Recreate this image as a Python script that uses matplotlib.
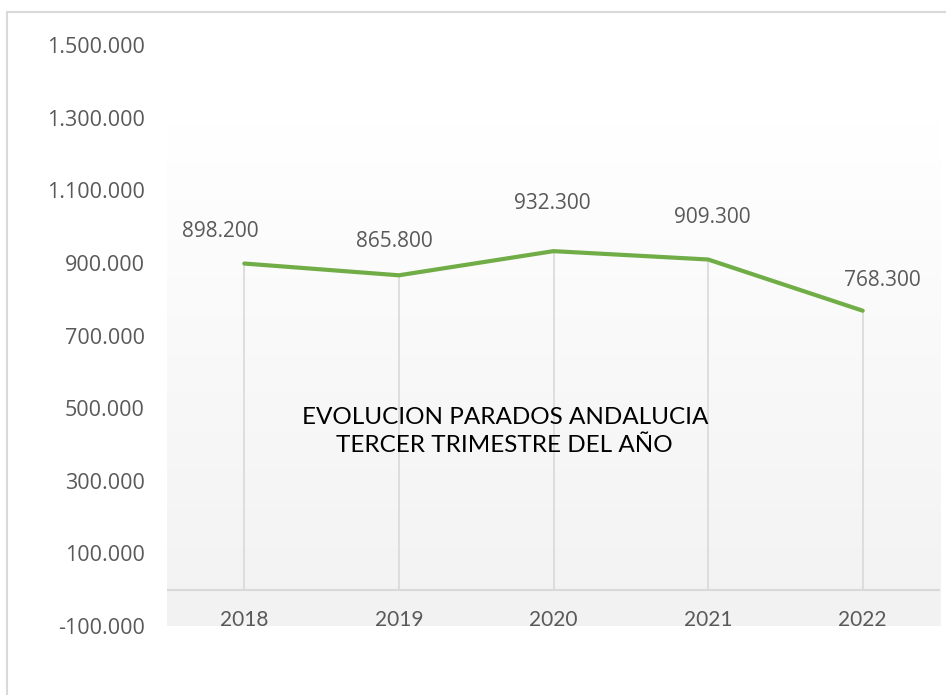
import matplotlib.pyplot as plt
import matplotlib.patches as mpatches
import numpy as np

# data
years = ['2018', '2019', '2020', '2021', '2022']
parados = [898200, 865800, 932300, 909300, 768300]
y_ticks = [-100000, 100000, 300000, 500000, 700000, 900000, 1100000, 1300000, 1500000]

# label offsets (points) to mimic the excel layout
label_offsets = [(-17, 23), (-3, 24), (-1, 34), (3, 30), (14, 22)]


def miles(v):
    return '{:,.0f}'.format(v).replace(',', '.')


fig = plt.figure(figsize=(9.46, 6.95), dpi=100)

# outer chart border
fig.patches.append(mpatches.Rectangle((7 / 946, -0.1), 1.2, 0.1 + (695 - 12) / 695,
                                      transform=fig.transFigure, fill=False,
                                      edgecolor='#D9D9D9', linewidth=1.5))

ax = fig.add_axes([167 / 946, 69 / 695, 773 / 946, 581 / 695])
ax.set_facecolor('white')

# plot area gradient (white at top to light gray at bottom)
grad = np.linspace(1.0, 0.949, 256).reshape(-1, 1)
ax.imshow(np.dstack([grad, grad, grad]), extent=[0, 1, 0, 0.867],
          transform=ax.transAxes, aspect='auto', zorder=0)

x = np.arange(len(years))
ax.set_xlim(-0.5, len(years) - 0.5)
ax.set_ylim(-100000, 1500000)

# vertical gridlines from zero up to the point
for i in x:
    ax.plot([i, i], [0, parados[i]], color='#D9D9D9', linewidth=1.2, zorder=1)
ax.axhline(0, color='#D9D9D9', linewidth=1.5, zorder=1)

ax.plot(x, parados, color='#70AD47', linewidth=3, solid_capstyle='round', zorder=3)

for i, v in enumerate(parados):
    ax.annotate(miles(v), (i, v), xytext=label_offsets[i], textcoords='offset points',
                ha='center', va='center', fontsize=15, color='#595959', family='Open Sans')

ax.set_yticks(y_ticks)
ax.set_yticklabels([miles(t) for t in y_ticks], family='Open Sans', fontsize=15.5, color='#595959')
ax.tick_params(axis='y', length=0, pad=16)

ax.set_xticks([])
for i, yr in enumerate(years):
    ax.annotate(yr, (i, 0), xytext=(0, -22), textcoords='offset points', ha='center', va='center',
                fontsize=15, color='#595959', family='Lato')

for s in ax.spines.values():
    s.set_visible(False)

ax.text(0.437, 0.335, 'EVOLUCION PARADOS ANDALUCIA\nTERCER TRIMESTRE DEL AÑO', transform=ax.transAxes,
        ha='center', va='center', fontsize=17.5, color='black', linespacing=1.45, family='Lato')

fig.savefig('out.png', dpi=100)
